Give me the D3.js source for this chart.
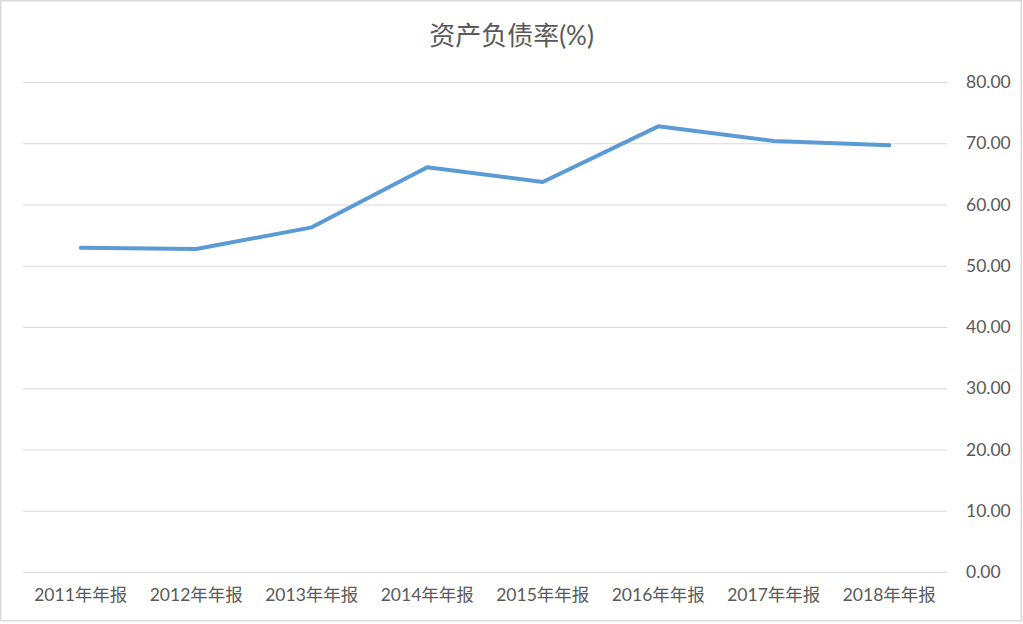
<!DOCTYPE html>
<html lang="zh">
<head>
    <meta charset="UTF-8">
    <title>资产负债率(%)</title>
    <script src="https://cdnjs.cloudflare.com/ajax/libs/d3/7.8.5/d3.min.js"></script>
    <style>
        * { margin: 0; padding: 0; box-sizing: border-box; }
        body { background: #fff; }
        svg text { font-family: Lato, 'Noto Sans CJK SC', sans-serif; fill: #595959; }
    </style>
</head>
<body>
    <div id="chart"></div>
    <script>
        const title = '资产负债率(%)';
        const categories = ['2011年年报', '2012年年报', '2013年年报', '2014年年报',
                            '2015年年报', '2016年年报', '2017年年报', '2018年年报'];
        const values = [52.95, 52.73, 56.27, 66.07, 63.67, 72.76, 70.37, 69.66];
        const yTicks = [0, 10, 20, 30, 40, 50, 60, 70, 80];

        const width = 1023, height = 624;
        const margin = { top: 82, right: 76, bottom: 52, left: 23 };

        const svg = d3.select('#chart')
            .append('svg')
            .attr('width', width)
            .attr('height', height);

        // chart frame
        svg.append('rect')
            .attr('x', 0.75).attr('y', 0.75)
            .attr('width', 1020.5).attr('height', 620)
            .attr('fill', '#fff')
            .attr('stroke', '#d9d9d9')
            .attr('stroke-width', 1.5);

        const x = d3.scaleBand()
            .domain(categories)
            .range([margin.left, width - margin.right]);

        const y = d3.scaleLinear()
            .domain([0, 80])
            .range([height - margin.bottom, margin.top]);

        // gridlines + right labels
        const yAxis = svg.append('g')
            .attr('transform', `translate(${width - margin.right},0)`)
            .call(d3.axisRight(y).tickValues(yTicks)
                .tickSize(-(width - margin.left - margin.right))
                .tickPadding(19)
                .tickFormat(d3.format('.2f')));
        yAxis.select('.domain').remove();
        yAxis.selectAll('line').attr('stroke', '#d9d9d9').attr('stroke-width', 1);
        yAxis.selectAll('text').attr('font-size', 17.5);

        // x labels
        const xAxis = svg.append('g')
            .attr('transform', `translate(0,${height - margin.bottom})`)
            .call(d3.axisBottom(x).tickSize(0).tickPadding(17));
        xAxis.select('.domain').remove();
        xAxis.selectAll('text').attr('font-size', 17.5);

        // line
        const line = d3.line()
            .x((d, i) => x(categories[i]) + x.bandwidth() / 2)
            .y(d => y(d));

        svg.append('path')
            .datum(values)
            .attr('fill', 'none')
            .attr('stroke', '#5b9bd5')
            .attr('stroke-width', 4)
            .attr('stroke-linejoin', 'round')
            .attr('stroke-linecap', 'round')
            .attr('d', line);

        svg.append('text')
            .attr('x', width / 2)
            .attr('y', 45)
            .attr('text-anchor', 'middle')
            .attr('font-size', 26)
            .text(title);
    </script>
</body>
</html>
